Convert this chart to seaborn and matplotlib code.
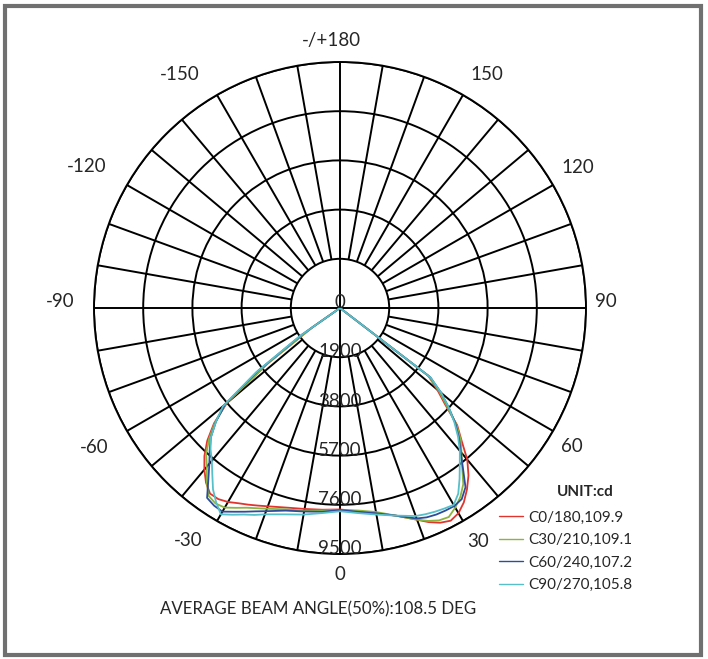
import numpy as np
import pandas as pd
import matplotlib
matplotlib.use("Agg")
import matplotlib.pyplot as plt
import seaborn as sns
from matplotlib.patches import Rectangle

# -----------------------------
# Data (candela vs. gamma angle)
# -----------------------------
angles = [-90, -80, -70, -60, -57.5, -55, -52.5, -50, -47.5, -45, -42.5, -40, -37.5, -35, -32.5,
          -30, -27.5, -25, -22.5, -20, -15, -10, -5, 0, 5, 10, 15, 20, 22.5, 25, 27.5, 30,
          32.5, 35, 37.5, 40, 42.5, 45, 47.5, 50, 52.5, 55, 60, 70, 80, 90]

c0_180 = [0, 0, 0, 0, 0, 1300, 3500, 5700, 6600, 7250, 7750, 8150, 8500, 8750, 8750,
          8650, 8500, 8380, 8260, 8150, 7980, 7880, 7820, 7780, 7880, 8050, 8300, 8700, 8950, 9150, 9260, 9150,
          8900, 8550, 8150, 7650, 6950, 6400, 5500, 4900, 4300, 0, 0, 0, 0, 0]
c30_210 = [0, 0, 0, 0, 0, 1300, 3600, 5750, 6550, 7150, 7650, 8000, 8450, 8850, 8950,
           8900, 8700, 8510, 8370, 8250, 8050, 7950, 7850, 7800, 7850, 8000, 8300, 8700, 8900, 9050, 9100, 8900,
           8650, 8300, 7750, 7300, 6900, 6350, 5600, 5000, 4300, 0, 0, 0, 0, 0]
c60_240 = [0, 0, 0, 0, 0, 1800, 4000, 5800, 6500, 7050, 7450, 7850, 8350, 8950, 9050,
           9080, 8870, 8680, 8500, 8350, 8100, 7980, 7900, 7800, 7900, 8050, 8300, 8650, 8750, 8800, 8820, 8830,
           8750, 8450, 7800, 7250, 6800, 6300, 5700, 5100, 4400, 0, 0, 0, 0, 0]
c90_270 = [0, 0, 0, 0, 0, 1900, 4100, 5900, 6500, 7050, 7400, 7700, 8100, 8550, 8900,
           9200, 9000, 8800, 8650, 8480, 8250, 8100, 7950, 7850, 7950, 8100, 8300, 8550, 8620, 8680, 8730, 8780,
           8500, 8050, 7600, 7200, 6750, 6250, 5700, 5100, 4400, 0, 0, 0, 0, 0]

series_names = ["C0/180,109.9", "C30/210,109.1", "C60/240,107.2", "C90/270,105.8"]
series_colors = ["#e0352f", "#8db43e", "#2d4d9c", "#56bfc8"]

ring_values = [1900, 3800, 5700, 7600, 9500]
ring_labels = ["0", "1900", "3800", "5700", "7600", "9500"]

theta_labels = ["0", "30", "60", "90", "120", "150", "-/+180", "-150", "-120", "-90", "-60", "-30"]

df = pd.concat([
    pd.DataFrame({"theta": np.deg2rad(angles), "cd": vals, "curve": name})
    for name, vals in zip(series_names, [c0_180, c30_210, c60_240, c90_270])
])

# -----------------------------
# Figure
# -----------------------------
sns.set_style("white")
plt.rcParams["font.family"] = ["Lato", "DejaVu Sans"]

W, H = 708, 659
fig = plt.figure(figsize=(W / 100, H / 100), dpi=100)
cx, cy, R = 340, 308, 246
ax = fig.add_axes([(cx - R) / W, (H - cy - R) / H, 2 * R / W, 2 * R / H], projection="polar")
ax.set_theta_zero_location("S")
ax.set_theta_direction(1)
ax.set_ylim(0, 9500)

grid_kw = dict(colors="black", linewidth=1.4, zorder=1)
ax.set_yticks(ring_values)
ax.set_yticklabels([])
ax.set_xticks([])
ax.yaxis.grid(True, color="black", linewidth=1.4)
ax.xaxis.grid(False)
ax.spines["polar"].set_color("black")
ax.spines["polar"].set_linewidth(1.4)

# spokes every 10 deg outside the inner ring, cross lines through the centre
ax.vlines(np.deg2rad(np.arange(0, 360, 10)), 1900, 9500, **grid_kw)
ax.vlines(np.deg2rad([0, 90, 180, 270]), 0, 1900, **grid_kw)

sns.lineplot(data=df, x="theta", y="cd", hue="curve", palette=dict(zip(series_names, series_colors)),
             sort=False, linewidth=1.3, ax=ax, zorder=3)
ax.set_xlabel("")
ax.set_ylabel("")

# ring labels along the 0 deg direction
for val, lab in zip([0] + ring_values, ring_labels):
    ax.text(0, val + 120, lab, ha="center", va="bottom", fontsize=13.5, zorder=4)

# angle labels (Excel places them a little irregularly)
label_pos = [(0, 266), (30.6, 271), (59.1, 270), (91.5, 266), (120.7, 276), (147.9, 276),
             (181.9, 268), (-145.6, 283), (-119.1, 290), (-91.4, 280), (-60.5, 283), (-33.1, 278)]
for lab, (ang, rpx) in zip(theta_labels, label_pos):
    ax.text(np.deg2rad(ang), rpx / R * 9500, lab, ha="center", va="center",
            fontsize=13.5, clip_on=False)

sns.move_legend(ax, "upper left", bbox_to_anchor=(491 / W, 1 - 503 / H),
                bbox_transform=fig.transFigure, title=None, frameon=False, fontsize=11,
                handlelength=1.6, handletextpad=0.35, labelspacing=0.55, borderpad=0)
for line in ax.get_legend().get_lines():
    line.set_linewidth(1.0)

fig.text(585 / W, 1 - 492 / H, "UNIT:cd", ha="center", va="center", fontsize=11, fontweight="bold")
fig.text(318 / W, 1 - 609 / H, "AVERAGE BEAM ANGLE(50%):108.5 DEG", ha="center", va="center",
         fontsize=12.2)

# grey frame around the picture
fig.patches.append(Rectangle((5 / W, 4 / H), 696 / W, 649 / H, transform=fig.transFigure,
                             fill=False, edgecolor="#707070", linewidth=3))

fig.savefig("out.png", dpi=100)
